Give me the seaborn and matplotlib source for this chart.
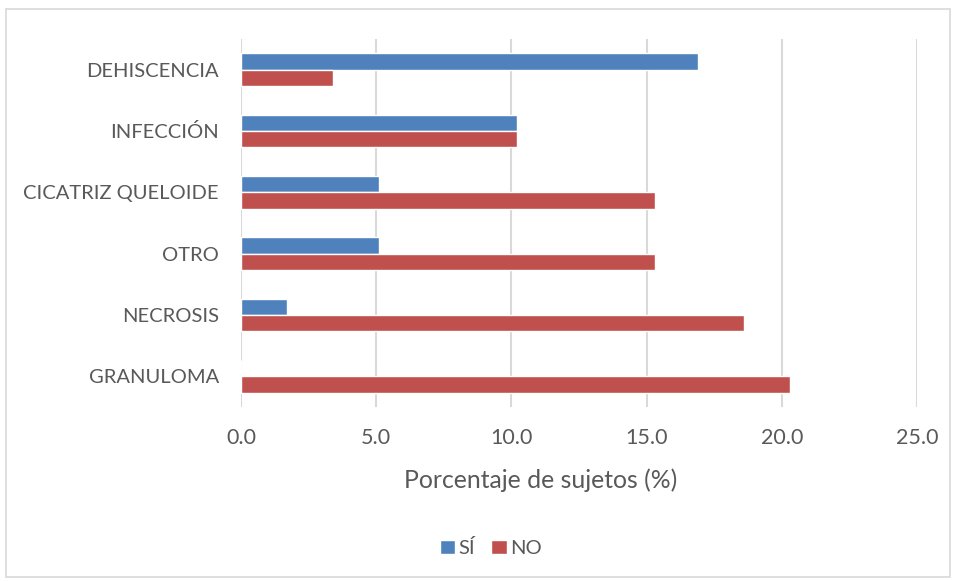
import matplotlib
matplotlib.use("Agg")
import matplotlib.pyplot as plt
import seaborn as sns
import pandas as pd
from matplotlib.patches import Rectangle

categories = ["DEHISCENCIA", "INFECCIÓN", "CICATRIZ QUELOIDE", "OTRO", "NECROSIS", "GRANULOMA"]
si_values = [16.9, 10.2, 5.1, 5.1, 1.7, 0.0]
no_values = [3.4, 10.2, 15.3, 15.3, 18.6, 20.3]
series = ["SÍ", "NO"]
xticks = [0, 5, 10, 15, 20, 25]

df = pd.DataFrame({
    "cat": categories * 2,
    "val": si_values + no_values,
    "serie": [series[0]] * len(categories) + [series[1]] * len(categories),
})

sns.set_theme(style="white")
plt.rcParams["font.family"] = ["Lato", "DejaVu Sans"]
txt = "#595959"

fig = plt.figure(figsize=(9.56, 5.81), dpi=100)
ax = fig.add_axes([0.2521, 0.2995, 0.9592 - 0.2521, 0.9329 - 0.2995])

sns.barplot(data=df, y="cat", x="val", hue="serie", order=categories,
            hue_order=series, palette=["#4F81BD", "#C0504D"], orient="h",
            width=0.53, ax=ax, saturation=1, legend=True)

ax.set_xlim(0, 25)
ax.set_xticks(xticks)
ax.set_xticklabels([f"{t:.1f}" for t in xticks])
ax.set_ylim(len(categories) - 0.5, -0.5)
ax.grid(axis="x", color="#D9D9D9", linewidth=1.5)
ax.grid(axis="y", visible=False)
ax.set_axisbelow(True)
for s in ax.spines.values():
    s.set_visible(False)
ax.tick_params(axis="both", length=0, labelcolor=txt)
ax.tick_params(axis="x", pad=15, labelsize=15.5)
ax.tick_params(axis="y", pad=16, labelsize=14.5)
ax.set_ylabel("")
ax.set_xlabel("Porcentaje de sujetos (%)", fontsize=17.8, color=txt)
ax.xaxis.set_label_coords((541 - 241) / 676, -0.168)

leg = ax.legend(loc="center", bbox_to_anchor=(491.0 / 956, 33.0 / 581), bbox_transform=fig.transFigure,
                ncol=2, frameon=False, fontsize=14.5, handlelength=0.75, handleheight=0.75,
                handletextpad=0.2, columnspacing=0.8)
for t in leg.get_texts():
    t.set_color(txt)

fig.patches.append(Rectangle((6 / 956, 4 / 581), 944 / 956, 568 / 581, transform=fig.transFigure,
                             fill=False, edgecolor="#D9D9D9", linewidth=1.2))

fig.savefig("out.png", dpi=100, facecolor="white")
